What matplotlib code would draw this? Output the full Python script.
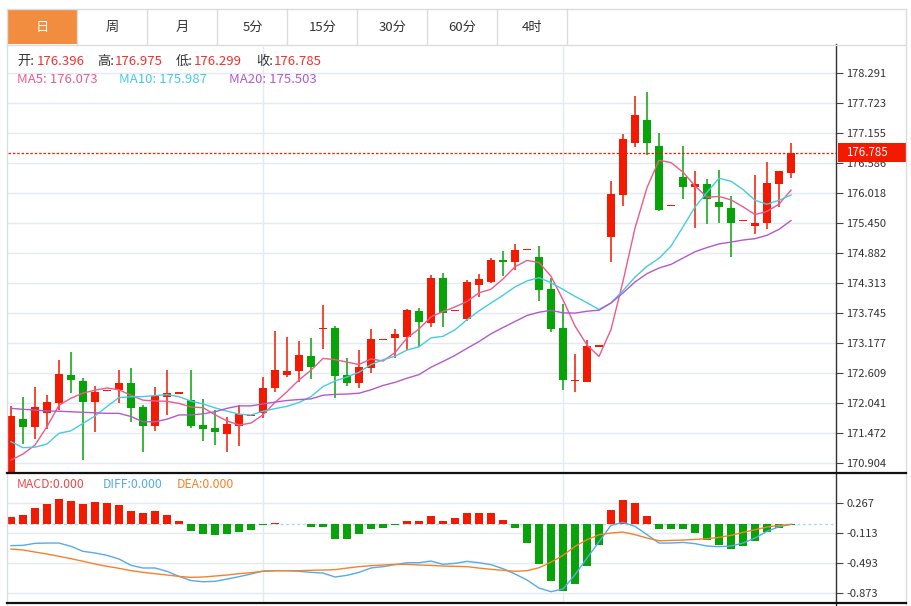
import numpy as np
import pandas as pd
import matplotlib
matplotlib.use('Agg')
import matplotlib.pyplot as plt
import matplotlib.transforms as mtransforms
from matplotlib.patches import Rectangle

plt.rcParams['font.family'] = ['Noto Sans CJK SC', 'DejaVu Sans']

# daily candles
opens = [170.745, 171.737, 171.591, 171.851, 172.040, 172.581, 172.462, 172.059, 172.267, 172.292,
         172.419, 171.964, 171.616, 172.165, 172.222, 172.102, 171.629, 171.572, 171.453, 171.616,
         171.800, 171.851, 172.324, 172.576, 172.652, 172.936, 173.447, 173.460, 172.576, 172.430,
         172.714, 173.238, 173.282, 173.295, 173.788, 173.555, 174.407, 173.788, 173.636, 174.280,
         174.331, 174.753, 174.710, 174.937, 174.810, 174.198, 173.465, 172.462, 172.438, 173.112,
         175.183, 175.984, 176.968, 177.398, 176.906, 175.775, 176.319, 176.141, 176.192, 175.851,
         175.743, 175.486, 175.402, 175.448, 176.198, 176.396]
highs = [171.995, 172.165, 172.343, 172.197, 172.860, 173.017, 172.513, 172.373, 172.267, 172.670,
         172.703, 172.002, 172.354, 172.670, 172.222, 172.670, 172.127, 171.913, 171.786, 172.008,
         171.800, 172.544, 173.415, 173.301, 173.220, 173.271, 173.901, 173.509, 172.903, 173.049,
         173.447, 173.238, 173.447, 173.825, 173.839, 174.469, 174.501, 173.788, 174.374, 174.488,
         174.785, 174.929, 175.050, 174.937, 175.018, 174.407, 173.920, 172.973, 173.238, 173.112,
         176.249, 177.139, 177.858, 177.928, 177.152, 175.775, 176.911, 176.444, 176.287, 176.457,
         175.965, 175.486, 176.362, 176.614, 176.438, 176.975]
lows = [170.730, 171.269, 171.370, 171.553, 171.913, 172.229, 170.966, 171.502, 172.267, 172.051,
        171.692, 171.124, 171.521, 171.818, 172.222, 171.578, 171.321, 171.250, 171.112, 171.237,
        171.800, 171.767, 172.260, 172.544, 172.449, 172.494, 173.068, 172.135, 172.368, 172.335,
        172.619, 173.238, 172.892, 173.049, 173.112, 173.490, 173.490, 173.788, 173.604, 174.058,
        174.312, 174.450, 174.564, 174.937, 173.982, 173.396, 172.292, 172.260, 172.438, 173.112,
        174.710, 175.775, 176.898, 176.741, 175.686, 175.775, 175.908, 175.353, 175.435, 175.448,
        174.816, 175.486, 175.240, 175.340, 175.762, 176.299]
closes = [171.800, 171.586, 171.976, 172.059, 172.589, 172.475, 172.070, 172.248, 172.267, 172.419,
          171.957, 171.610, 172.173, 172.229, 172.222, 171.616, 171.548, 171.502, 171.648, 171.832,
          171.800, 172.335, 172.670, 172.657, 172.954, 172.722, 173.447, 172.557, 172.419, 172.727,
          173.257, 173.238, 173.358, 173.806, 173.574, 174.407, 173.744, 173.788, 174.331, 174.388,
          174.753, 174.710, 174.942, 174.937, 174.185, 173.452, 172.481, 172.462, 173.131, 173.112,
          175.997, 177.050, 177.493, 176.974, 175.694, 175.775, 176.141, 176.198, 175.908, 175.762,
          175.448, 175.486, 175.459, 176.217, 176.438, 176.785]

# moving averages before enough candles are on screen
ma5_head = [170.966, 171.08, 171.25, 171.60]
ma10_head = [171.313, 171.20, 171.21, 171.27, 171.472, 171.52, 171.66, 171.80, 171.98]
ma20_head = [171.945, 171.926, 171.913, 171.894, 171.89, 171.88, 171.87, 171.86, 171.85, 171.85,
             171.79, 171.69, 171.69, 171.74, 171.82, 171.82, 171.84, 171.88, 171.945]

# MACD panel
macd = [0.094, 0.123, 0.208, 0.263, 0.322, 0.296, 0.263, 0.284, 0.271, 0.242, 0.166, 0.140, 0.174,
        0.119, 0.039, -0.079, -0.122, -0.138, -0.122, -0.096, -0.075, -0.004, 0.022, 0.005, 0.003,
        -0.033, -0.037, -0.181, -0.181, -0.117, -0.054, -0.046, -0.012, 0.043, 0.043, 0.102, 0.039,
        0.077, 0.144, 0.144, 0.144, 0.060, -0.046, -0.236, -0.502, -0.713, -0.839, -0.751, -0.531,
        -0.265, 0.187, 0.309, 0.271, 0.102, -0.062, -0.054, -0.054, -0.113, -0.202, -0.265, -0.307,
        -0.278, -0.214, -0.092, -0.041, -0.005]
diff = [-0.269, -0.265, -0.240, -0.236, -0.236, -0.278, -0.341, -0.362, -0.392, -0.438, -0.518,
        -0.552, -0.552, -0.594, -0.658, -0.711, -0.726, -0.721, -0.692, -0.662, -0.628, -0.590,
        -0.586, -0.586, -0.594, -0.607, -0.616, -0.666, -0.645, -0.607, -0.552, -0.535, -0.510,
        -0.485, -0.485, -0.464, -0.506, -0.493, -0.468, -0.485, -0.510, -0.561, -0.628, -0.704,
        -0.806, -0.852, -0.818, -0.637, -0.426, -0.220, -0.012, 0.026, -0.025, -0.130, -0.236,
        -0.236, -0.228, -0.244, -0.274, -0.282, -0.274, -0.236, -0.172, -0.088, -0.029, 0.0]
dea = [-0.312, -0.324, -0.350, -0.375, -0.404, -0.434, -0.467, -0.502, -0.531, -0.556, -0.586,
       -0.607, -0.624, -0.641, -0.658, -0.671, -0.666, -0.654, -0.641, -0.624, -0.611, -0.594,
       -0.586, -0.586, -0.586, -0.581, -0.578, -0.573, -0.553, -0.535, -0.523, -0.514, -0.506,
       -0.506, -0.514, -0.519, -0.527, -0.531, -0.535, -0.553, -0.569, -0.581, -0.594, -0.586,
       -0.549, -0.477, -0.393, -0.278, -0.194, -0.130, -0.109, -0.097, -0.130, -0.173, -0.207,
       -0.203, -0.198, -0.190, -0.181, -0.164, -0.139, -0.101, -0.068, -0.033, -0.012, 0.0]

price_ticks = ['178.291', '177.723', '177.155', '176.586', '176.018', '175.450', '174.882',
               '174.313', '173.745', '173.177', '172.609', '172.041', '171.472', '170.904']
macd_ticks = ['0.267', '-0.113', '-0.493', '-0.873']
month_starts = [21, 46]
tabs = ['日', '周', '月', '5分', '15分', '30分', '60分', '4时']
ma_text = [('MA5', '176.073'), ('MA10', '175.987'), ('MA20', '175.503')]

RED = '#F21A00'
GREEN = '#08A308'
GRID = '#E3EAF1'
C_MA5, C_MA10, C_MA20 = '#EE5A8C', '#45CBE3', '#B35ACB'
C_DIFF, C_DEA = '#55AAF0', '#F5822A'

n = len(closes)
x = np.arange(n)
o = np.array(opens); h = np.array(highs); l = np.array(lows); c = np.array(closes)
up = c >= o
cols = np.where(up, RED, GREEN)

cs = pd.Series(c)
ma5 = cs.rolling(5).mean().to_numpy(); ma5[:4] = ma5_head
ma10 = cs.rolling(10).mean().to_numpy(); ma10[:9] = ma10_head
ma20 = cs.rolling(20).mean().to_numpy(); ma20[:19] = ma20_head

W, H = 912, 606
fig = plt.figure(figsize=(W / 100, H / 100), dpi=100)
fig.patch.set_facecolor('white')

def frac(x0, y0, x1, y1):
    return [x0 / W, 1 - y1 / H, (x1 - x0) / W, (y1 - y0) / H]

xlim = (-0.25, 68.79)

# ---- price panel
ax = fig.add_axes(frac(8, 47, 836.5, 473.3))
ax.set_facecolor('none')
ax.set_xlim(*xlim)
ax.set_ylim(170.715, 178.786)
pt = [float(t) for t in price_ticks]
for v in pt:
    ax.axhline(v, color=GRID, lw=1, zorder=0)
for m in month_starts:
    ax.axvline(m, color=GRID, lw=1, zorder=0)

ax.vlines(x, l, h, colors=cols, lw=1.1, zorder=2)
body = np.maximum(np.abs(c - o), 0.025)
ax.bar(x, body, bottom=np.minimum(o, c), width=0.72, color=cols, zorder=3, linewidth=0)

ax.plot(x, ma5, color=C_MA5, lw=1.0, zorder=4)
ax.plot(x, ma10, color=C_MA10, lw=1.0, zorder=4)
ax.plot(x, ma20, color=C_MA20, lw=1.0, zorder=4)

ax.axhline(c[-1], color=RED, lw=0.9, ls=(0, (2, 1.5)), zorder=5)

ax.yaxis.tick_right()
ax.set_yticks(pt)
ax.set_yticklabels(price_ticks)
ax.tick_params(axis='y', length=5, width=0.8, color='#444', labelsize=8, labelcolor='#333', pad=2)
ax.set_xticks([])
for s in ax.spines.values():
    s.set_visible(False)

# last price tag
tr = mtransforms.blended_transform_factory(ax.transAxes, ax.transData)
ax.add_patch(Rectangle((1.0015, c[-1] - 0.174), 0.0835, 0.348, transform=tr,
                       facecolor=RED, edgecolor='none', clip_on=False, zorder=6))
ax.annotate(f'{c[-1]:.3f}', xy=(1, c[-1]), xycoords=tr, xytext=(6.5, 0),
            textcoords='offset points', va='center', ha='left', color='white',
            fontsize=8.3, zorder=7, annotation_clip=False)

# ---- MACD panel
ax2 = fig.add_axes(frac(8, 473.3, 836.5, 603.3))
ax2.set_facecolor('none')
ax2.set_xlim(*xlim)
ax2.set_ylim(-0.999, 0.647)
mt = [float(t) for t in macd_ticks]
for v in mt:
    ax2.axhline(v, color=GRID, lw=1, zorder=0)
for m in month_starts:
    ax2.axvline(m, color=GRID, lw=1, zorder=0)
mv = np.array(macd)
ax2.bar(x, mv, width=0.72, color=np.where(mv >= 0, RED, GREEN), zorder=2, linewidth=0)
ax2.axhline(0, color='#A8D8F2', lw=1, ls=(0, (2, 2)), zorder=1)
ax2.plot(x, diff, color=C_DIFF, lw=1.0, zorder=3)
ax2.plot(x, dea, color=C_DEA, lw=1.0, zorder=3)
ax2.yaxis.tick_right()
ax2.set_yticks(mt)
ax2.set_yticklabels(macd_ticks)
ax2.tick_params(axis='y', length=5, width=0.8, color='#444', labelsize=8, labelcolor='#333', pad=2)
ax2.set_xticks([])
for s in ax2.spines.values():
    s.set_visible(False)

# ---- frame, tabs and header text
deco = fig.add_axes([0, 0, 1, 1], zorder=10)
deco.set_xlim(0, W)
deco.set_ylim(H, 0)
deco.axis('off')

deco.plot([7.5, 7.5], [8.5, 606], color='#DADFE4', lw=1)
deco.plot([906, 906], [8.5, 606], color='#DCDCDC', lw=1)
deco.plot([836.5, 836.5], [44, 606], color='#333333', lw=1)
deco.plot([7.5, 906], [473.3, 473.3], color='#111111', lw=1.6)
deco.plot([7.5, 906], [603.3, 603.3], color='#111111', lw=1.6)

tab_w = 70
tab_x0 = 7.5
deco.add_patch(Rectangle((tab_x0, 8.5), tab_w, 35.5, facecolor='#F28C3E', edgecolor='none'))
deco.plot([7.5, 906], [8.5, 8.5], color='#DCDCDC', lw=1)
deco.plot([7.5, 906], [44.5, 44.5], color='#DCDCDC', lw=1)
for k, t in enumerate(tabs):
    xa = tab_x0 + k * tab_w
    deco.plot([xa + tab_w, xa + tab_w], [8.5, 44.5], color='#DCDCDC', lw=1)
    deco.text(xa + tab_w / 2, 27, t, ha='center', va='center', fontsize=9.5,
              color='white' if k == 0 else '#333333')

vals = [o[-1], h[-1], l[-1], c[-1]]
for lab, v, xl, xv in zip(['开:', '高:', '低:', '收:'], vals, [17, 97, 176, 256], [36.5, 115, 194, 274]):
    deco.text(xl, 61.5, lab, ha='left', va='center', fontsize=9.5, color='#333333')
    deco.text(xv, 61.5, f'{v:.3f}', ha='left', va='center', fontsize=9.5, color='#F3302A')
for (lab, v), xl, col in zip(ma_text, [17, 119, 229], [C_MA5, C_MA10, C_MA20]):
    deco.text(xl, 79.5, f'{lab}: {v}', ha='left', va='center', fontsize=9.5, color=col)

for lab, xl, col in zip(['MACD:0.000', 'DIFF:0.000', 'DEA:0.000'], [17, 103, 177],
                        ['#F04848', C_DIFF, C_DEA]):
    deco.text(xl, 484.5, lab, ha='left', va='center', fontsize=8.8, color=col)

fig.savefig('out.png', dpi=100)
